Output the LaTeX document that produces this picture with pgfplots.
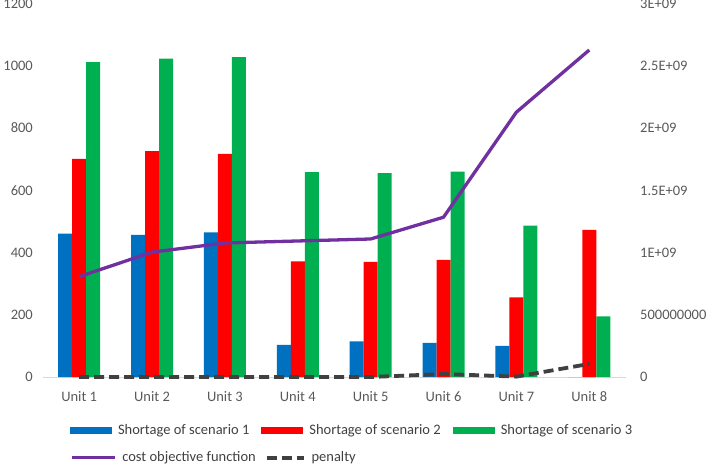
\documentclass[border=0pt]{standalone}
\usepackage{fontspec}
\setmainfont{Carlito}
\usepackage{pgfplots}
\pgfplotsset{compat=1.18}
\definecolor{cblue}{HTML}{0070C0}
\definecolor{cred}{HTML}{FF0000}
\definecolor{cgreen}{HTML}{00B050}
\definecolor{cpurple}{HTML}{7030A0}
\definecolor{cpen}{HTML}{404040}
\definecolor{tgray}{HTML}{595959}
\newcommand{\cfont}{\fontsize{14.5bp}{17bp}\selectfont}
\pgfplotsset{
  legA/.style={legend image code/.code={\draw[##1] (0bp,0bp) -- (43bp,0bp);}},
  legB/.style={legend image code/.code={\draw[##1] (0bp,0bp) -- (37bp,0bp);}},
  legBar/.style={legend image code/.code={\fill[##1] (0bp,-3.5bp) rectangle (42bp,3.5bp);}},
}
\begin{document}
\begin{tikzpicture}
\pgfplotsset{
  base/.style={scale only axis, width=583bp, height=373bp, at={(0,0)}, anchor=south west,
    xmin=-0.5, xmax=7.5, tick style={draw=none}, major tick length=0pt,
    tick label style={font=\cfont, text=tgray},
    legend style={draw=none, fill=none, inner sep=0pt, outer sep=0pt, anchor=west, font=\cfont,
      nodes={inner sep=0pt, text depth=0.15em, text=cpen}},
  }
}
\begin{axis}[base, ymin=0, ymax=1200, ytick={0,200,400,600,800,1000,1200},
  yticklabels={0,200,400,600,800,1000,1200},
  axis x line*=bottom, axis y line*=left, y axis line style={draw=none},
  x axis line style={draw=black!15, line width=0.75bp, -},
  xtick={0,1,2,3,4,5,6,7},
  xticklabels={Unit 1,Unit 2,Unit 3,Unit 4,Unit 5,Unit 6,Unit 7,Unit 8},
  xticklabel style={anchor=base, yshift=-24.7bp},
  yticklabel style={anchor=base east, inner sep=0pt, xshift=-9.7bp, yshift=-4.6bp},
  ybar=0pt, bar width=14bp,
  legend columns=3,
  legend style={at={(0.04683,-0.14209)},
    /tikz/every odd column/.append style={column sep=6bp},
    /tikz/every even column/.append style={column sep=12bp}},
]
\addplot[draw=none, fill=cblue, legBar] coordinates {(0,461) (1,457) (2,465) (3,103) (4,115) (5,110) (6,100) (7,0)};
\addlegendentry{Shortage of scenario 1}
\addplot[draw=none, fill=cred, legBar] coordinates {(0,702) (1,727) (2,718) (3,372) (4,370) (5,377) (6,256) (7,473)};
\addlegendentry{Shortage of scenario 2}
\addplot[draw=none, fill=cgreen, legBar] coordinates {(0,1013) (1,1024) (2,1029) (3,659) (4,656) (5,661) (6,487) (7,195)};
\addlegendentry{Shortage of scenario 3}
\end{axis}
\begin{axis}[base, ymin=0, ymax=3e9, ytick={0,5e8,1e9,1.5e9,2e9,2.5e9,3e9},
  yticklabels={0,500000000,1E+09,1.5E+09,2E+09,2.5E+09,3E+09},
  scaled y ticks=false,
  axis x line=none, xtick=\empty, axis y line*=right, y axis line style={draw=none},
  yticklabel style={anchor=base west, inner sep=0pt, xshift=14.3bp, yshift=-4.6bp},
  clip=false, legend columns=2,
  legend style={at={(0.04683,-0.21635)},
    /tikz/every odd column/.append style={column sep=6bp},
    /tikz/every even column/.append style={column sep=9bp}},
]
\addplot[cpurple, line width=3.3bp, line join=round, legA]
  coordinates {(0,0.807e9) (1,1.004e9) (2,1.078e9) (3,1.094e9) (4,1.11e9) (5,1.285e9) (6,2.13e9) (7,2.63e9)};
\addlegendentry{cost objective function}
\addplot[cpen, line width=3.8bp, dash pattern=on 10bp off 5bp, line join=round, legB]
  coordinates {(0,0) (1,0) (2,0) (3,0) (4,0) (5,2.4e7) (6,0.3e7) (7,1.05e8)};
\addlegendentry{penalty}
\end{axis}
\pgfresetboundingbox
\path[use as bounding box] (-42.7bp,-88bp) rectangle (664.3bp,377bp);
\end{tikzpicture}
\end{document}
